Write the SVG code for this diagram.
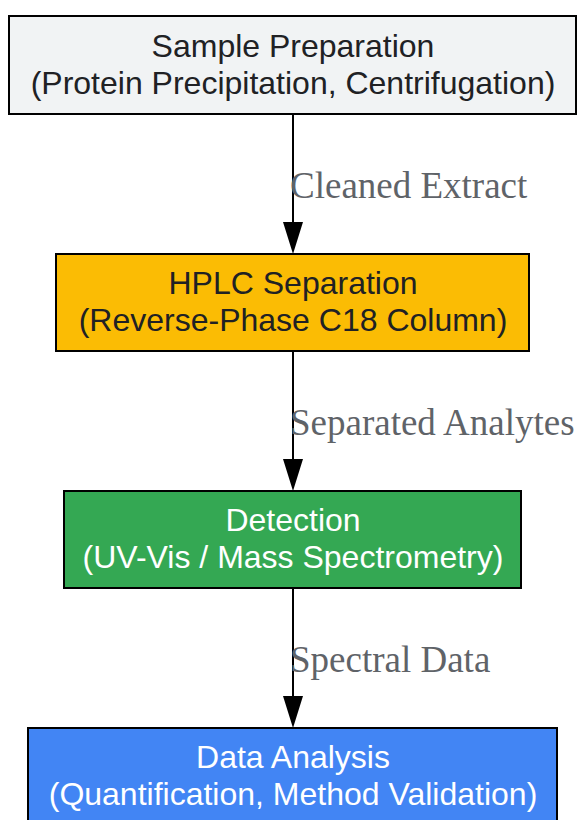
<svg xmlns="http://www.w3.org/2000/svg" width="577" height="820" viewBox="0 0 577 820">
<defs>
<style>
.box{stroke:#000;stroke-width:2}
.t{font-family:"Liberation Sans",Arial,sans-serif;font-size:32px;text-anchor:middle}
.lbl{font-family:"Liberation Serif","Times New Roman",serif;font-size:37px;fill:#5f6368}
</style>
</defs>
<rect width="577" height="820" fill="#fff"/>
<g id="connectors">
<line x1="293" y1="114" x2="293" y2="222" stroke="#000" stroke-width="2"/>
<path d="M283,222 L303,222 L293,254 Z" fill="#000"/>
<line x1="293" y1="351" x2="293" y2="459" stroke="#000" stroke-width="2"/>
<path d="M283,459 L303,459 L293,491 Z" fill="#000"/>
<line x1="293" y1="588" x2="293" y2="696" stroke="#000" stroke-width="2"/>
<path d="M283,696 L303,696 L293,728 Z" fill="#000"/>
<text class="lbl" x="290" y="198">Cleaned Extract</text>
<text class="lbl" x="290" y="435">Separated Analytes</text>
<text class="lbl" x="290" y="672">Spectral Data</text>
</g>
<g id="sample-prep">
<rect class="box" x="9" y="16" width="567" height="98" fill="#f1f3f4"/>
<text class="t" x="293" y="57" fill="#202124">Sample Preparation</text>
<text class="t" x="293" y="94" fill="#202124">(Protein Precipitation, Centrifugation)</text>
</g>
<g id="hplc">
<rect class="box" x="56" y="254" width="473" height="97" fill="#fbbc04"/>
<text class="t" x="293" y="294" fill="#202124">HPLC Separation</text>
<text class="t" x="293" y="331" fill="#202124">(Reverse-Phase C18 Column)</text>
</g>
<g id="detection">
<rect class="box" x="64" y="491" width="457" height="97" fill="#34a853"/>
<text class="t" x="293" y="531" fill="#fff">Detection</text>
<text class="t" x="293" y="568" fill="#fff">(UV-Vis / Mass Spectrometry)</text>
</g>
<g id="data-analysis">
<rect class="box" x="28" y="728" width="529" height="97" fill="#4285f4"/>
<text class="t" x="293" y="768" fill="#fff">Data Analysis</text>
<text class="t" x="293" y="805" fill="#fff">(Quantification, Method Validation)</text>
</g>
</svg>
